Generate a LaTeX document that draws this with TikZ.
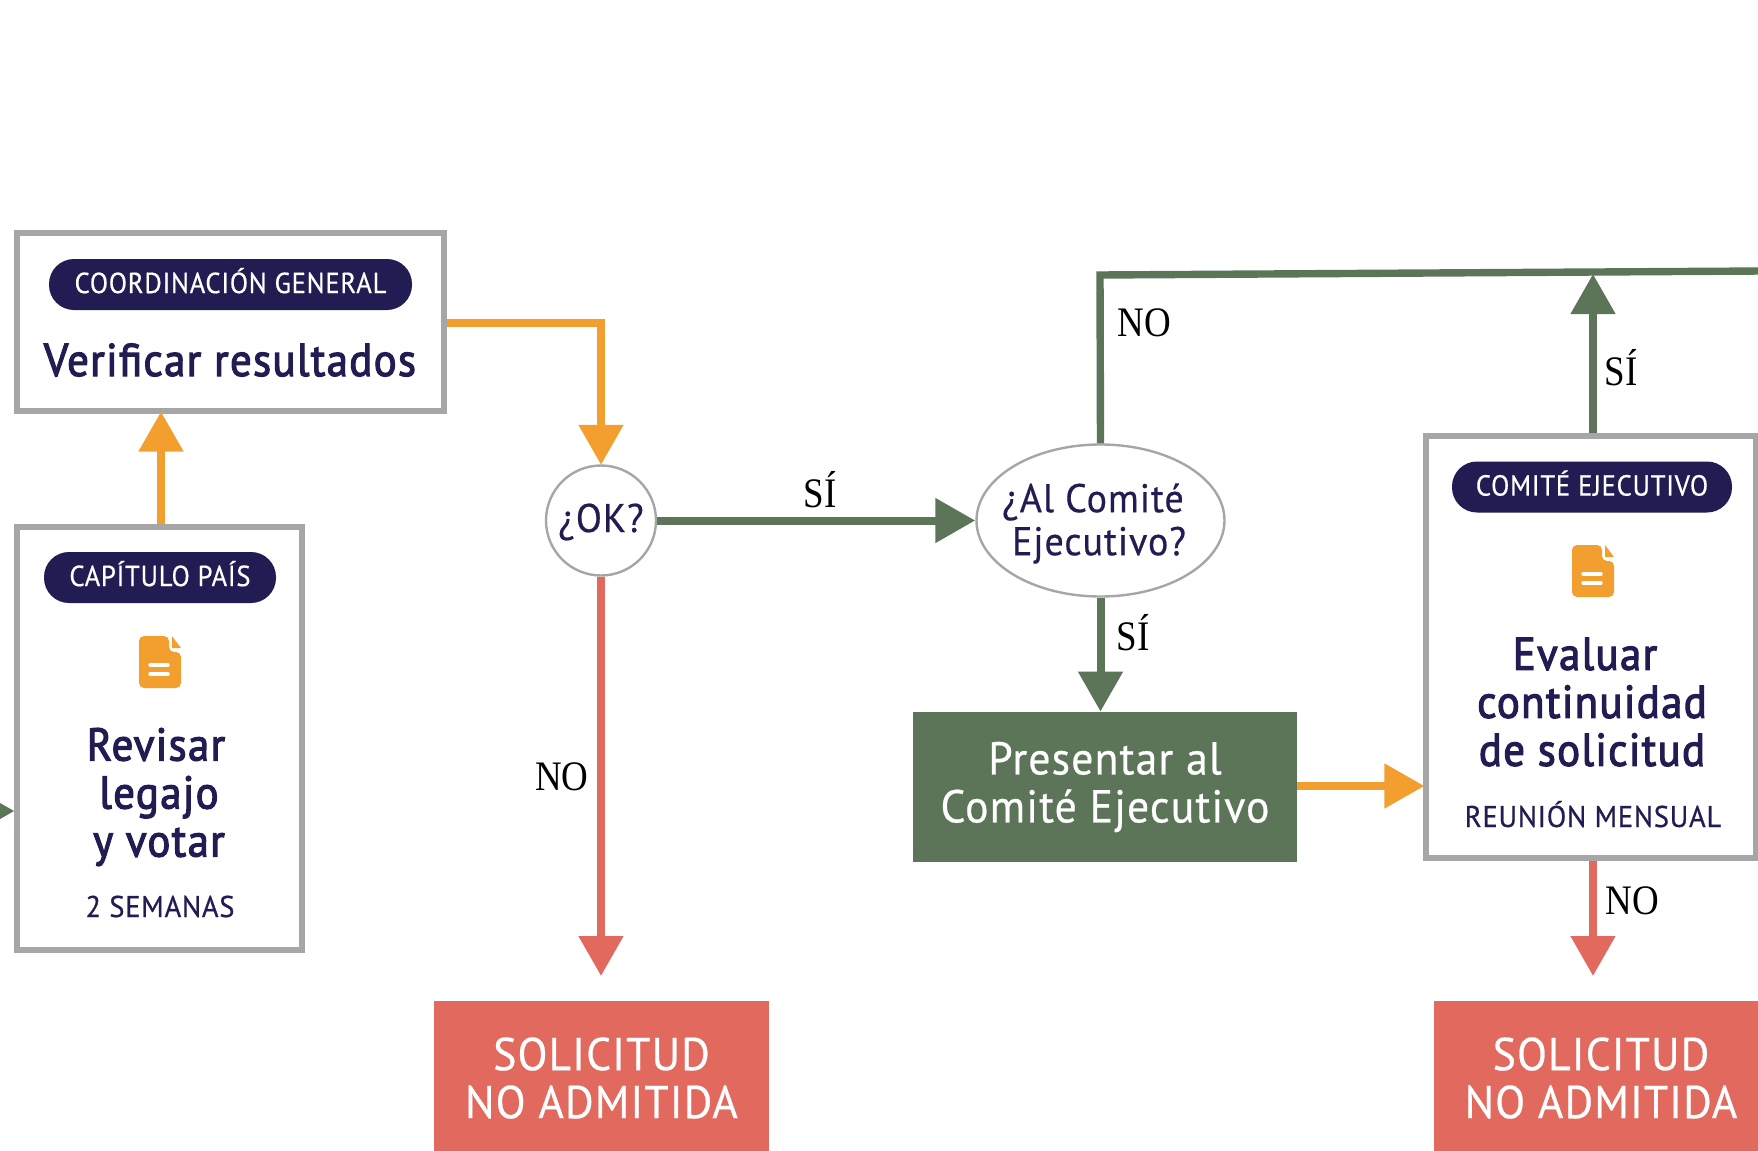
\documentclass[tikz,border=0pt]{standalone}
\usepackage{fontspec}
\setmainfont{PT Sans}
\newfontfamily\mf[FakeStretch=0.95,LetterSpace=2.5,FakeBold=0.5]{PT Sans}
\newfontfamily\pf[FakeStretch=0.92,LetterSpace=2.5,FakeBold=0.5]{PT Sans}
\newfontfamily\tf[FakeStretch=0.93,LetterSpace=3,FakeBold=2.5]{PT Sans}
\newfontfamily\lf[FakeStretch=0.88]{Liberation Serif}
\usetikzlibrary{arrows.meta,shapes.geometric}
\definecolor{navy}{HTML}{211C52}
\definecolor{gris}{HTML}{A6A6A6}
\definecolor{verde}{HTML}{5C7559}
\definecolor{naranja}{HTML}{F29F2F}
\definecolor{rojo}{HTML}{E2695E}
\newcommand{\docicon}[2]{%
  \begin{scope}[shift={(#1,#2)}]
    \fill[naranja,rounded corners=2.5pt] (0,0) -- (30,0) -- (30,16) -- (42,16) -- (42,52) -- (0,52) -- cycle;
    \fill[naranja] (33,0) -- (42,12) -- (33,12) -- cycle;
    \draw[white,line width=1.7pt,line cap=round] (11,29) -- (29,29) (11,38) -- (29,38);
  \end{scope}}
\tikzset{
  graybox/.style={draw=gris,line width=2.55pt,fill=white,inner sep=0pt},
  greybubble/.style={draw=gris,line width=1.2pt,fill=white,inner sep=0pt},
  solidbox/.style={inner sep=0pt,text=white,align=center,font=\mf\fontsize{23}{24}\selectfont},
  pill/.style={fill=navy,rounded corners=12.5pt,inner sep=0pt,text=white,text height=12pt,text depth=3.4pt,font=\pf\fontsize{14.5}{16}\selectfont},
  titletext/.style={text=navy,align=center,inner sep=0pt,font=\tf\fontsize{23}{24}\selectfont},
  subtext/.style={text=navy,inner sep=0pt,anchor=base,font=\mf\fontsize{15}{16}\selectfont},
  asktext/.style={text=navy,align=center,inner sep=0pt,font=\mf\fontsize{20}{21.5}\selectfont},
  yn/.style={text=black,inner sep=0pt,anchor=base,font=\lf\fontsize{21}{22}\selectfont},
  flow/.style={line width=4pt,-{Triangle[length=20pt,width=21.5pt]}},
  plainflow/.style={line width=3.7pt,line join=miter},
}
\begin{document}
\begin{tikzpicture}[x=0.5pt,y=-0.5pt]
\useasboundingbox (0,0) rectangle (1758,1151);
\clip (0,0) rectangle (1758,1151);
% boxes
\node[graybox,minimum width=213.5pt,minimum height=89pt] (verif) at (230.5,322) {};
\node[graybox,minimum width=142.5pt,minimum height=211.5pt] (cap) at (159.5,738.5) {};
\node[graybox,minimum width=165pt,minimum height=211pt] (eval) at (1591,647) {};
\node[greybubble,circle,minimum size=55pt] (ok) at (601,520.5) {};
\node[greybubble,ellipse,minimum width=124pt,minimum height=76pt] (al) at (1100.5,520.5) {};
\node[fill=verde,solidbox,minimum width=192pt,minimum height=75pt] (pres) at (1105,787) {Presentar al\\Comité Ejecutivo};
\node[fill=rojo,solidbox,minimum width=167.5pt,minimum height=75pt] (sol1) at (601.5,1076) {\rule{0pt}{18.4pt}SOLICITUD\\NO ADMITIDA};
\node[fill=rojo,solidbox,minimum width=167pt,minimum height=75pt] (sol2) at (1601,1076) {\rule{0pt}{18.4pt}SOLICITUD\\NO ADMITIDA};
% pills
\node[pill,minimum width=181.5pt,minimum height=25.5pt] (p1) at (230.5,284.5) {COORDINACIÓN GENERAL};
\node[pill,minimum width=116pt,minimum height=25.5pt] (p2) at (160,577.5) {CAPÍTULO PAÍS};
\node[pill,minimum width=140pt,minimum height=25.5pt] (p3) at (1592,487) {COMITÉ EJECUTIVO};
% icons
\docicon{139}{636}
\docicon{1572}{545}
% texts
\node[titletext] (t1) at (230,360) {Verificar resultados};
\node[titletext] (t2) at (159,797) {Revisar\hspace*{3pt}\\legajo\hspace*{3pt}\\y votar};
\node[titletext] (t3) at (1592,702) {Evaluar\hspace*{7pt}\\continuidad\\de solicitud};
\node[subtext] (s1) at (160,917) {2 SEMANAS};
\node[subtext] (s2) at (1593,827) {REUNIÓN MENSUAL};
\node[asktext] (q1) at (601,522) {¿OK?};
\node[asktext] (q2) at (1093,523.5) {¿Al Comité\\\hspace*{6pt}Ejecutivo?};
% connector points
\coordinate (inleft) at (-23,811);
\coordinate (topc) at (1100,275);
\coordinate (topr) at (1762,271);
\coordinate (topsi) at (1593,274);
\coordinate (presy) at (0,786);
\coordinate (nored) at (1593,976);
\coordinate (nofin) at (601,976);
% connectors
\draw[flow,verde] (inleft) -- (inleft -| cap.west);
\draw[flow,naranja] ([xshift=0.75pt]cap.north) -- ([xshift=0.75pt,yshift=1pt]cap.north |- verif.south);
\draw[flow,naranja] ([yshift=-0.5pt]verif.east) -| ([yshift=-0.3pt]ok.north);
\draw[flow,verde] (ok.east) -- (al.west);
\draw[flow,rojo] (ok.south) -- (nofin);
\draw[plainflow,verde] (al.north) -- (topc) -- (topr);
\draw[flow,verde] (al.south) -- (pres.north -| al.south);
\draw[flow,naranja] (pres.east |- presy) -- ([xshift=0.5pt]eval.west |- presy);
\draw[flow,verde] ([xshift=1pt]eval.north) -- (topsi);
\draw[flow,rojo] ([xshift=1pt]eval.south) -- (nored);
% labels
\node[yn] (l1) at (820,507) {SÍ};
\node[yn] (l2) at (1144,336) {NO};
\node[yn] (l3) at (1133,650) {SÍ};
\node[yn] (l4) at (1621,385) {SÍ};
\node[yn] (l5) at (562,790) {NO};
\node[yn] (l6) at (1632,914) {NO};
\end{tikzpicture}
\end{document}
